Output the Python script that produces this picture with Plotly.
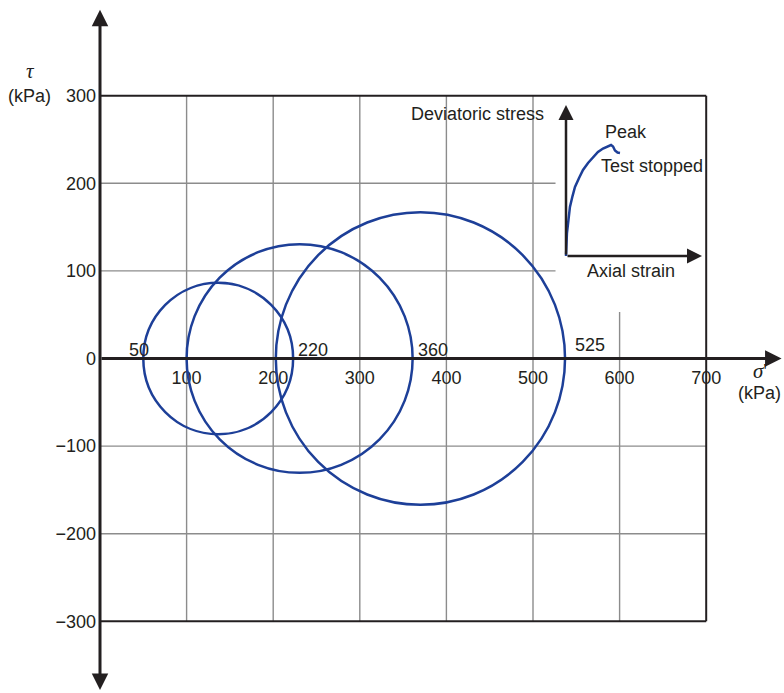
import plotly.graph_objects as go

# ---------------- data ----------------
sigma3 = [50, 100, 203]          # minor principal stress (kPa), circle left ends
sigma1 = [223, 361, 537]         # major principal stress (kPa), circle right ends
end_labels = ["50", "220", "360", "525"]

x_ticks = [100, 200, 300, 400, 500, 600, 700]
y_ticks = [-300, -200, -100, 0, 100, 200, 300]

# inset sketch: stress-strain curve (arbitrary units)
strain = [0, 0.02, 0.07, 0.18, 0.29, 0.48, 0.66, 0.96, 1.25, 1.62, 1.99, 2.35, 2.72,
          3.09, 3.31, 3.46, 3.60, 3.79, 3.97]
dev_stress = [0, 0.73, 1.52, 2.38, 3.25, 3.97, 4.57, 5.17, 5.70, 6.16, 6.56, 6.89, 7.12,
              7.28, 7.35, 7.25, 6.99, 6.85, 6.82]

# ---------------- styles ----------------
W, H = 784, 693
BLUE = "#1d3f98"
DARK = "#231f20"
GRID = "#8c8c8c"
FONT = "Liberation Sans, Arial, sans-serif"

# pixel mapping of main axes (full canvas)
X0PX, KX = 100.0, 0.866
Y0PX, KY = 358.5, 0.876
x_range = [-X0PX / KX, (W - X0PX) / KX]
y_range = [-(H - Y0PX) / KY, Y0PX / KY]

# inset mapping
IX0, IKX = 566.0, 13.6
IY0, IKY = 256.0, 15.1
ix_range = [-12, 11]
iy_range = [-2, 10.5]

fig = go.Figure()

shapes = []
# grid lines
for xv in x_ticks[:-1]:
    top = 300 if xv <= 500 else 53
    shapes.append(dict(type="line", xref="x", yref="y", x0=xv, x1=xv, y0=-300, y1=top,
                       line=dict(color=GRID, width=1.4), layer="below"))
for yv in y_ticks:
    if yv in (0, 300, -300):
        continue
    right = 526 if yv > 0 else 700
    shapes.append(dict(type="line", xref="x", yref="y", x0=0, x1=right, y0=yv, y1=yv,
                       line=dict(color=GRID, width=1.4), layer="below"))
# frame
shapes.append(dict(type="line", xref="x", yref="y", x0=0, x1=700, y0=300, y1=300,
                   line=dict(color=DARK, width=2), layer="below"))
shapes.append(dict(type="line", xref="x", yref="y", x0=0, x1=700, y0=-300, y1=-300,
                   line=dict(color=DARK, width=2), layer="below"))
shapes.append(dict(type="line", xref="x", yref="y", x0=700, x1=700, y0=-300, y1=300,
                   line=dict(color=DARK, width=2), layer="below"))
# Mohr circles
for s3, s1 in zip(sigma3, sigma1):
    r = (s1 - s3) / 2
    shapes.append(dict(type="circle", xref="x", yref="y", x0=s3, x1=s1, y0=-r, y1=r,
                       line=dict(color=BLUE, width=2.5), layer="above"))

# inset curve
fig.add_trace(go.Scatter(x=strain, y=dev_stress, xaxis="x2", yaxis="y2", mode="lines",
                         line=dict(color=BLUE, width=2.5), cliponaxis=False,
                         hoverinfo="skip", showlegend=False))

annotations = []
txt = dict(family=FONT, size=18, color=DARK)
greek = dict(family="Liberation Serif, DejaVu Serif, serif", size=21, color=DARK)

# main axes with arrows
annotations.append(dict(xref="x", yref="y", axref="x", ayref="y", x=0, y=398, ax=0, ay=-380,
                        text="", showarrow=True, arrowhead=2, arrowside="end+start",
                        arrowsize=1.1, arrowwidth=3, arrowcolor=DARK, standoff=0, startstandoff=0))
annotations.append(dict(xref="x", yref="y", axref="x", ayref="y", x=787, y=0, ax=0, ay=0,
                        text="", showarrow=True, arrowhead=2, arrowsize=1.1, arrowwidth=3,
                        arrowcolor=DARK, standoff=0))

# circle end labels
lab_pos = [(sigma3[0], "center", -4, -3), (sigma1[0], "left", 3, -3),
           (sigma1[1], "left", 3, -3), (sigma1[2], "left", 8, 2)]
for text, (xv, anchor, xs, ys) in zip(end_labels, lab_pos):
    annotations.append(dict(xref="x", yref="y", x=xv, y=0, text=text, showarrow=False,
                            xanchor=anchor, yanchor="bottom", xshift=xs, yshift=ys, font=txt))

# axis titles
annotations.append(dict(xref="x", yref="y", x=-80.3, y=328, text="<i>τ</i>", showarrow=False,
                        font=greek))
annotations.append(dict(xref="x", yref="y", x=0, y=300, text="(kPa)", showarrow=False,
                        xanchor="right", xshift=-47, font=txt))
annotations.append(dict(xref="x", yref="y", x=762, y=-14, text="<i>σ</i>'", showarrow=False,
                        font=greek))
annotations.append(dict(xref="x", yref="y", x=762, y=-39.5, text="(kPa)", showarrow=False,
                        font=txt))

# inset axes arrows and labels
annotations.append(dict(xref="x2", yref="y2", axref="x2", ayref="y2", x=0, y=10, ax=0, ay=0,
                        text="", showarrow=True, arrowhead=2, arrowsize=1.2, arrowwidth=2.5,
                        arrowcolor=DARK, standoff=0))
annotations.append(dict(xref="x2", yref="y2", axref="x2", ayref="y2", x=10, y=0, ax=0, ay=0,
                        text="", showarrow=True, arrowhead=2, arrowsize=1.2, arrowwidth=2.5,
                        arrowcolor=DARK, standoff=0))
annotations.append(dict(xref="x2", yref="y2", x=-1.47, y=9.4, text="Deviatoric stress",
                        showarrow=False, xanchor="right", font=txt))
annotations.append(dict(xref="x2", yref="y2", x=4.41, y=8.2, text="Peak",
                        showarrow=False, font=txt))
annotations.append(dict(xref="x2", yref="y2", x=2.4, y=5.96, text="Test stopped",
                        showarrow=False, xanchor="left", font=txt))
annotations.append(dict(xref="x2", yref="y2", x=4.8, y=-1.0, text="Axial strain",
                        showarrow=False, font=txt))

fig.update_layout(
    width=W, height=H,
    margin=dict(l=0, r=0, t=0, b=0),
    paper_bgcolor="white", plot_bgcolor="rgba(0,0,0,0)",
    showlegend=False,
    xaxis=dict(range=x_range, domain=[0, 1], anchor="free", position=(H - Y0PX) / H,
               tickvals=x_ticks, ticktext=[str(v) for v in x_ticks], showgrid=False,
               zeroline=False, showline=False, ticks="", tickfont=txt,
               ticklabelstandoff=6, automargin=False, fixedrange=True),
    yaxis=dict(range=y_range, domain=[0, 1], anchor="free", position=X0PX / W,
               tickvals=y_ticks, ticktext=[("\u2212" + str(-v)) if v < 0 else str(v) for v in y_ticks],
               showgrid=False, zeroline=False, showline=False, ticks="", tickfont=txt,
               ticklabelstandoff=4, automargin=False, fixedrange=True),
    xaxis2=dict(range=ix_range, anchor="y2", visible=False, fixedrange=True,
                domain=[(IX0 + ix_range[0] * IKX) / W, (IX0 + ix_range[1] * IKX) / W]),
    yaxis2=dict(range=iy_range, anchor="x2", visible=False, fixedrange=True,
                domain=[(H - IY0 + iy_range[0] * IKY) / H, (H - IY0 + iy_range[1] * IKY) / H]),
    shapes=shapes,
    annotations=annotations,
)

fig.write_html("out.html", config={"displayModeBar": False},
               post_script="document.body.style.margin='0';document.body.style.overflow='hidden';")
